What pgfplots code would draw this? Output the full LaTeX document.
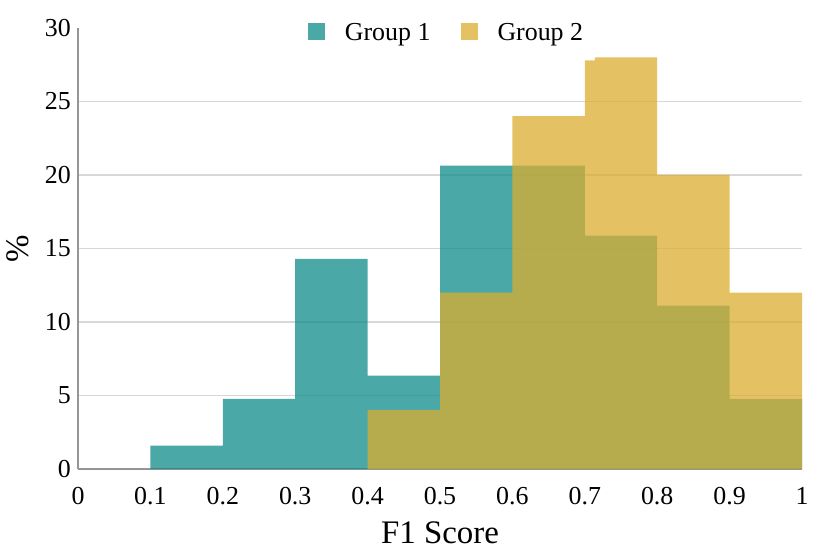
\documentclass[border=0pt]{standalone}
\usepackage{pgfplots}
\pgfplotsset{compat=1.18}
\usepackage{fontspec}
\setmainfont{Liberation Serif}
\definecolor{gOne}{RGB}{14,139,136}
\definecolor{gTwo}{RGB}{219,174,48}
\definecolor{gridc}{RGB}{216,216,216}
\definecolor{axc}{RGB}{150,150,150}
\begin{document}
\begin{tikzpicture}
\useasboundingbox (-78bp,-85bp) rectangle (752bp,469bp);
\begin{axis}[
  at={(0,0)}, anchor=south west,
  scale only axis,
  width=724bp, height=441bp,
  xmin=0, xmax=1, ymin=0, ymax=30,
  axis x line*=bottom, axis y line*=left,
  axis line style={draw=axc, line width=1.5bp},
  separate axis lines,
  xtick={0,0.1,...,1.0},
  xticklabels={0,0.1,0.2,0.3,0.4,0.5,0.6,0.7,0.8,0.9,1},
  ytick={0,5,10,15,20,25},
  extra y ticks={30},
  extra y tick style={grid=none},
  ymajorgrids,
  grid style={draw=gridc, line width=1.1bp},
  major tick length=0pt,
  /pgf/number format/assume math mode=true,
  ticklabel style={font=\fontsize{26}{31}\selectfont},
  xticklabel style={anchor=base, yshift=-35bp, inner sep=0pt},
  yticklabel style={anchor=east, xshift=-7bp, inner sep=0pt},
  xlabel={F1 Score},
  ylabel={\%},
  label style={font=\fontsize{33}{39}\selectfont},
  xlabel style={at={(axis description cs:0.5,-0.170)}, anchor=base},
  ylabel style={at={(axis description cs:-0.083,0.5)}, anchor=center},
  legend style={at={(0.5076,0.990)}, anchor=center, draw=none, fill=none,
    font=\fontsize{26}{31}\selectfont, legend columns=-1,
    nodes={inner sep=0pt},
    /tikz/every odd column/.append style={column sep=20bp},
    /tikz/every even column/.append style={column sep=30bp}},
]
\addplot[ybar interval, fill=gOne, fill opacity=0.75, draw=none,
  legend image code/.code={\fill[gOne, fill opacity=0.75] (0bp,-8bp) rectangle (17bp,9bp);}]
  coordinates {(0,0) (0.1,1.587) (0.2,4.762) (0.3,14.286) (0.4,6.349) (0.5,20.635) (0.6,20.635) (0.7,15.873) (0.8,11.111) (0.9,4.762) (1.0,4.762)};
\addlegendentry{Group 1}
\addplot[ybar interval, fill=gTwo, fill opacity=0.75, draw=none,
  legend image code/.code={\fill[gTwo, fill opacity=0.75] (0bp,-8bp) rectangle (17bp,9bp);}]
  coordinates {(0.4,4) (0.5,12) (0.6,24) (0.7,27.8) (0.714,28) (0.8,20) (0.9,12) (1.0,12)};
\addlegendentry{Group 2}
\end{axis}
\end{tikzpicture}
\end{document}
